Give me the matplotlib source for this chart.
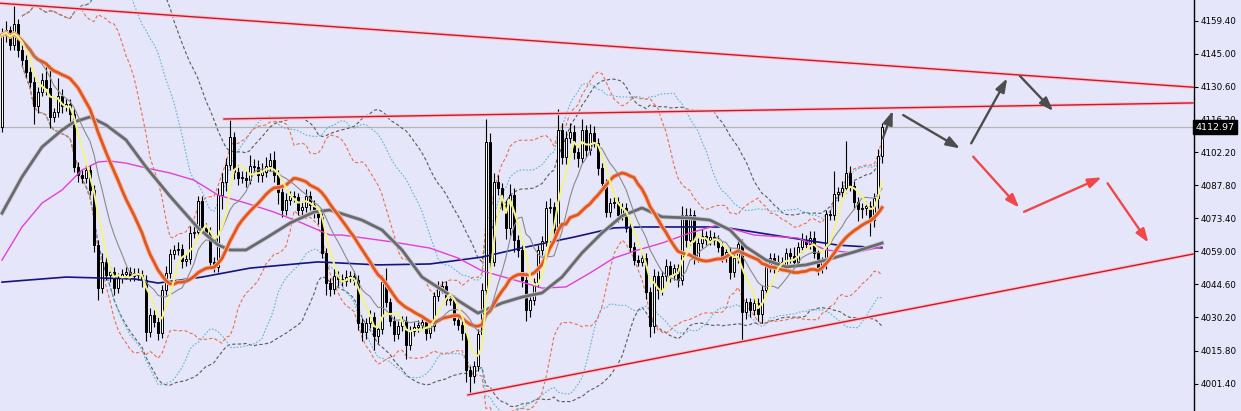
import numpy as np
import pandas as pd
import matplotlib
matplotlib.use("Agg")
import matplotlib.pyplot as plt
import matplotlib.patheffects as pe
from matplotlib.transforms import blended_transform_factory

# candle closes, one per bar (open = previous close)
first_open = 4113.0
closes = [
    4153.2, 4155.3, 4148.8, 4158.0, 4146.6, 4142.3, 4137.1, 4132.7, 4122.3, 4128.4,
    4133.6, 4130.1, 4117.5, 4119.6, 4126.6, 4122.3, 4123.1, 4118.8, 4095.7, 4092.2,
    4090.9, 4094.4, 4085.7, 4061.8, 4043.0, 4054.4, 4048.7, 4050.0, 4043.0, 4047.4,
    4049.1, 4050.0, 4048.3, 4049.6, 4048.7, 4046.5, 4023.9, 4031.3, 4028.2, 4023.4,
    4042.2, 4049.6, 4057.8, 4059.6, 4060.0, 4054.8, 4055.7, 4067.0, 4067.4, 4080.9,
    4069.2, 4067.4, 4054.4, 4052.2, 4083.5, 4089.2, 4096.6, 4108.8, 4093.5, 4090.9,
    4090.9, 4090.1, 4096.1, 4095.7, 4092.2, 4093.5, 4096.1, 4098.8, 4092.2, 4084.8,
    4077.0, 4081.3, 4083.1, 4082.6, 4077.0, 4078.3, 4083.1, 4079.2, 4075.7, 4073.9,
    4058.3, 4045.2, 4042.6, 4048.3, 4047.0, 4046.1, 4047.8, 4048.3, 4046.5, 4027.8,
    4023.9, 4027.8, 4030.4, 4022.1, 4025.2, 4045.6, 4036.9, 4028.7, 4023.0, 4026.5,
    4028.7, 4018.2, 4024.3, 4026.1, 4026.9, 4028.2, 4023.4, 4026.5, 4039.5, 4043.0,
    4043.9, 4037.8, 4037.8, 4029.1, 4026.9, 4023.4, 4007.3, 4004.7, 4009.1, 4023.0,
    4042.2, 4106.6, 4054.4, 4089.2, 4086.6, 4079.2, 4069.2, 4083.5, 4063.9, 4059.6,
    4046.5, 4033.5, 4037.8, 4045.6, 4059.6, 4063.5, 4077.9, 4078.3, 4068.3, 4111.8,
    4100.1, 4108.3, 4111.0, 4102.2, 4099.6, 4111.8, 4103.1, 4110.5, 4106.2, 4095.3,
    4088.7, 4076.1, 4080.0, 4080.5, 4074.8, 4077.9, 4069.2, 4060.9, 4055.2, 4054.4,
    4056.1, 4041.3, 4026.5, 4048.3, 4042.2, 4048.3, 4052.6, 4048.7, 4051.7, 4046.5,
    4074.8, 4063.9, 4074.8, 4056.5, 4062.6, 4065.7, 4063.9, 4065.2, 4063.9, 4060.9,
    4056.5, 4058.7, 4050.0, 4056.1, 4062.2, 4032.6, 4036.9, 4033.5, 4036.5, 4031.7,
    4042.2, 4052.2, 4056.1, 4052.6, 4054.4, 4052.6, 4058.3, 4057.0, 4054.4, 4060.9,
    4063.9, 4062.2, 4064.8, 4058.3, 4051.7, 4054.4, 4075.2, 4074.8, 4083.9, 4084.8,
    4086.6, 4093.1, 4087.4, 4080.5, 4077.4, 4077.9, 4078.7, 4072.6, 4082.2, 4100.5,
    4112.97,
]
# wick lengths above / below the body, in points
upper_wicks = [
    3, 4, 2, 8, 2, 2, 2, 2, 3, 2,   3, 6, 10, 2, 8, 3, 2, 2, 2, 2,
    2, 2, 2, 2, 2, 4, 2, 2, 2, 2,   2, 2, 2, 2, 2, 2, 2, 3, 2, 2,
    2, 3, 2, 2, 3, 2, 2, 3, 4, 2,   2, 2, 2, 2, 3, 4, 3, 8, 2, 3,
    3, 3, 5, 3, 3, 4, 4, 3, 4, 2,   2, 3, 2, 2, 2, 2, 3, 2, 2, 2,
    2, 2, 2, 3, 2, 2, 3, 2, 2, 2,   2, 2, 3, 2, 2, 3, 6, 2, 2, 2,
    2, 2, 2, 2, 2, 2, 2, 2, 2, 3,   2, 2, 2, 2, 2, 2, 2, 2, 2, 2,
    3, 10, 4, 4, 3, 2, 2, 5, 3, 2,  2, 2, 2, 2, 2, 2, 3, 4, 2, 9,
    3, 3, 4, 3, 2, 5, 2, 4, 3, 2,   2, 2, 2, 2, 2, 2, 2, 3, 2, 2,
    2, 2, 2, 3, 2, 2, 3, 2, 2, 2,   4, 3, 3, 2, 2, 3, 2, 3, 2, 2,
    2, 2, 2, 3, 2, 2, 2, 2, 2, 2,   2, 2, 2, 2, 3, 2, 2, 2, 4, 2,
    3, 2, 3, 3, 2, 2, 2, 2, 10, 2,  3, 14, 3, 2, 2, 2, 2, 2, 2, 3,
    2,
]
lower_wicks = [
    2, 3, 2, 2, 3, 2, 2, 2, 8, 3,   2, 3, 5, 2, 2, 3, 2, 4, 2, 3,
    2, 2, 2, 3, 5, 2, 2, 3, 3, 2,   2, 2, 2, 2, 2, 3, 4, 2, 2, 3,
    2, 2, 2, 2, 2, 3, 2, 2, 2, 2,   2, 2, 2, 2, 2, 6, 4, 2, 3, 3,
    2, 3, 2, 3, 3, 3, 2, 2, 3, 5,   3, 2, 2, 2, 2, 2, 2, 2, 2, 3,
    2, 5, 3, 2, 3, 2, 2, 2, 2, 3,   4, 3, 2, 6, 3, 2, 2, 2, 3, 2,
    2, 6, 2, 2, 2, 2, 3, 2, 2, 2,   2, 2, 2, 2, 2, 3, 5, 8, 3, 2,
    2, 2, 4, 2, 3, 2, 5, 3, 5, 3,   3, 5, 3, 2, 2, 2, 2, 2, 3, 2,
    3, 3, 2, 3, 4, 2, 3, 2, 2, 3,   3, 2, 2, 2, 3, 2, 2, 2, 2, 2,
    2, 3, 5, 3, 4, 2, 2, 3, 2, 3,   2, 3, 2, 3, 2, 2, 2, 2, 2, 2,
    2, 2, 3, 2, 2, 13, 3, 3, 2, 3,  4, 2, 2, 3, 2, 2, 2, 3, 2, 2,
    2, 2, 2, 2, 3, 2, 3, 2, 2, 3,   2, 2, 2, 3, 5, 4, 3, 7, 3, 5,
    3,
]

# slow moving averages (bar index, price)
ma_gray_idx = [0, 5, 10, 15, 18, 22, 26, 31, 36, 42, 49, 54, 57, 61, 66, 72, 78, 82,
               90, 95, 100, 105, 110, 115, 119, 125, 130, 135, 140, 145, 150, 155,
               160, 165, 172, 177, 182, 186, 191, 196, 201, 206, 213, 220]
ma_gray = [4075.6, 4091.4, 4104.4, 4111.8, 4115.3, 4117.5, 4114.0, 4107.5, 4095.7,
           4083.0, 4069.2, 4061.8, 4059.6, 4059.6, 4064.8, 4071.3, 4076.1, 4077.0,
           4072.6, 4068.3, 4059.6, 4047.8, 4042.2, 4036.5, 4032.1, 4036.5, 4039.1,
           4040.9, 4047.8, 4058.3, 4067.0, 4074.4, 4077.9, 4074.0, 4073.5, 4072.6,
           4068.3, 4060.9, 4055.2, 4052.2, 4053.1, 4055.2, 4058.7, 4062.6]
ma_pink_idx = [0, 5, 10, 15, 20, 24, 27, 31, 36, 42, 48, 54, 61, 68, 75, 82, 85,
               98, 107, 114, 120, 130, 135, 141, 147, 153, 159, 165, 172, 179,
               188, 199, 206, 213, 220]
ma_pink = [4055.2, 4069.6, 4080.0, 4085.7, 4094.4, 4097.9, 4098.3, 4097.4, 4095.3,
           4093.1, 4090.0, 4083.5, 4080.0, 4076.1, 4071.3, 4066.1, 4066.1, 4063.0,
           4060.4, 4056.1, 4050.5, 4045.6, 4043.0, 4043.5, 4049.6, 4056.1, 4059.6,
           4062.6, 4067.0, 4070.5, 4066.1, 4064.8, 4059.6, 4058.3, 4061.0]
ma_navy_idx = [0, 16, 33, 39, 50, 62, 79, 94, 107, 120, 130, 143, 153, 160, 180,
               196, 209, 220]
ma_navy = [4045.6, 4047.8, 4047.0, 4045.2, 4047.8, 4051.7, 4054.4, 4053.1, 4053.5,
           4056.5, 4060.5, 4065.2, 4069.2, 4069.6, 4069.6, 4065.2, 4061.7, 4060.5]

# hand-drawn trend lines and arrows (bar index, price)
top_line = [(-0.5, 4167.0), (298.0, 4130.4)]
mid_line = [(55.5, 4116.6), (298.0, 4123.6)]
low_line = [(116.5, 3996.5), (298.0, 4057.9)]
gray_arrows = [((220.2, 4108.2), (222.7, 4120.2)),
               ((225.3, 4118.3), (239.5, 4103.8)),
               ((242.3, 4106.0), (251.3, 4134.3)),
               ((254.5, 4135.3), (262.8, 4120.1))]
red_arrows = [((242.8, 4100.2), (254.3, 4078.0)),
              ((255.5, 4076.2), (274.9, 4091.2)),
              ((276.4, 4088.6), (286.6, 4062.8))]

price_ticks = [4001.40, 4015.80, 4030.20, 4044.60, 4059.00, 4073.40, 4087.80,
               4102.20, 4116.20, 4130.60, 4145.00, 4159.40]
last_price = 4112.97

bg = "#e6e6fa"
fig = plt.figure(figsize=(12.41, 4.11), dpi=100)
fig.set_facecolor(bg)
ax = fig.add_axes([0, 0, 1194 / 1241, 1])
ax.set_facecolor(bg)

x = np.arange(len(closes))
c = np.array(closes)
o = np.concatenate([[first_open], c[:-1]])
hi = np.maximum(o, c) + np.array(upper_wicks)
lo = np.minimum(o, c) - np.array(lower_wicks)

ax.axhline(last_price, color="#b4b4b4", lw=0.9, zorder=1)

# bollinger-style bands
s = pd.Series(closes)
for win, col, dash in [(40, "#5a5a5a", (3, 2)), (30, "#5ab8d0", (1.5, 1.5)),
                       (20, "#ec6e4c", (3, 2))]:
    m = s.rolling(win, min_periods=6).mean()
    sd = s.rolling(win, min_periods=6).std(ddof=0)
    for band in (m + 2 * sd, m - 2 * sd):
        ax.plot(x, band, color=col, lw=0.8, dashes=dash, zorder=2)

# candles
up = c >= o
ax.vlines(x, lo, hi, color="black", lw=0.8, zorder=3)
body_h = np.maximum(np.abs(c - o), 0.35)
ax.bar(x, body_h, bottom=np.minimum(o, c), width=0.72,
       color=np.where(up, "white", "black"), edgecolor="black", linewidth=0.7,
       zorder=4)

# moving averages
ax.plot(ma_navy_idx, ma_navy, color="#14147f", lw=1.2, zorder=5)
ax.plot(ma_pink_idx, ma_pink, color="#e23fd6", lw=1.0, zorder=5)
ax.plot(ma_gray_idx, ma_gray, color="#6a6a6a", lw=2.0, zorder=5,
        path_effects=[pe.Stroke(linewidth=3.2, foreground="#c8c8d8"), pe.Normal()])
ax.plot(x, s.rolling(20, min_periods=1).mean(), color="#e2561f", lw=2.0, zorder=6,
        path_effects=[pe.Stroke(linewidth=3.4, foreground="#f4bca4"), pe.Normal()])
ax.plot(x, s.rolling(10, min_periods=1).mean(), color="#8a8a8a", lw=0.8, zorder=6)
ax.plot(x, s.rolling(5, min_periods=1).mean(), color="#f3f38a", lw=1.5, zorder=6)

# trend lines
for line in (top_line, mid_line, low_line):
    (x0, y0), (x1, y1) = line
    ax.plot([x0, x1], [y0, y1], color="#c41a2c", lw=1.0, zorder=7,
            path_effects=[pe.Stroke(linewidth=2.6, foreground="#ffc2cc"), pe.Normal()])

for arrows, col in ((gray_arrows, "#4d4d4d"), (red_arrows, "#f04848")):
    for start, end in arrows:
        ax.annotate("", xy=end, xytext=start, zorder=8,
                    arrowprops=dict(arrowstyle="-|>,head_length=0.9,head_width=0.32",
                                    color=col, lw=1.7, mutation_scale=9,
                                    shrinkA=0, shrinkB=0))

ax.set_xlim(-0.5, 298)
ax.set_ylim(3989.5, 4168.4)
ax.set_xticks([])
ax.yaxis.tick_right()
ax.set_yticks(price_ticks)
ax.set_yticklabels([f"{p:.2f}" for p in price_ticks])
ax.tick_params(axis="y", length=3, width=0.8, pad=2, labelsize=6.3, colors="black")
for side in ("top", "left", "bottom"):
    ax.spines[side].set_visible(False)
ax.spines["right"].set_color("black")
ax.spines["right"].set_linewidth(1.0)

trans = blended_transform_factory(ax.transAxes, ax.transData)
ax.text(1.0015, last_price, f"{last_price:.2f}", transform=trans, ha="left",
        va="center", fontsize=6.8, color="white", clip_on=False, zorder=10,
        bbox=dict(boxstyle="square,pad=0.28", facecolor="black", edgecolor="black"))

fig.savefig("out.png", dpi=100, facecolor=bg)
